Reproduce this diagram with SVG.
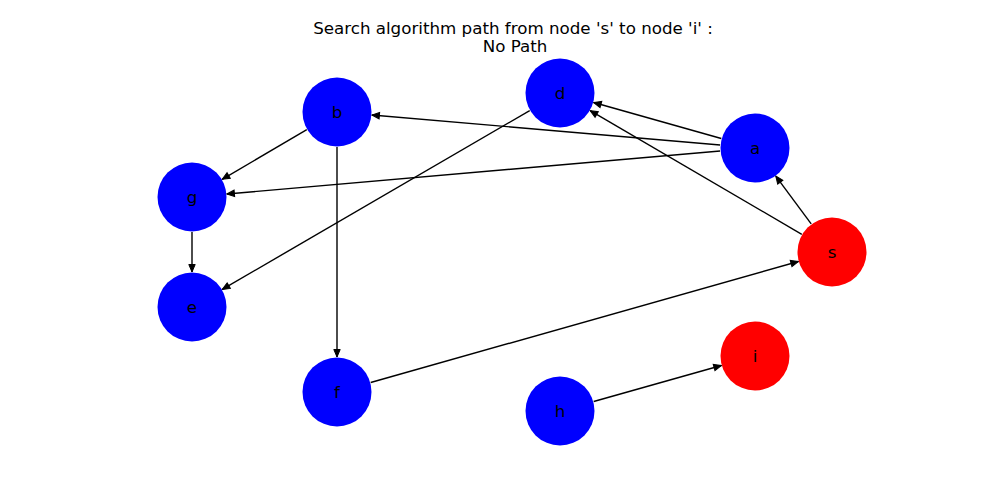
<svg xmlns="http://www.w3.org/2000/svg" width="1000" height="500" viewBox="0 0 1000 500">
<style>
.edge{stroke:#000;stroke-width:1.4;fill:none;marker-end:url(#ah)}
.blue{fill:#0000ff}
.red{fill:#ff0000}
.lbl{font-family:"DejaVu Sans",sans-serif;font-size:16.7px;fill:#000;text-anchor:middle;dominant-baseline:central}
.title{font-family:"DejaVu Sans",sans-serif;font-size:16.7px;fill:#000;text-anchor:middle}
</style>
<defs>
<marker id="ah" markerUnits="userSpaceOnUse" markerWidth="12" markerHeight="10" viewBox="-9 -5 10 10" refX="0" refY="0" orient="auto">
<path d="M0,0 L-7.5,-3.2 L-7.5,3.2 Z" fill="#000" stroke="#000" stroke-width="1" stroke-linejoin="miter"/>
</marker>
</defs>
<rect width="1000" height="500" fill="#fff"/>
<text class="title" x="513" y="34">Search algorithm path from node 's' to node 'i' :</text>
<text class="title" x="515" y="52">No Path</text>
<g id="edges">
<line class="edge" x1="720.1" y1="145.0" x2="371.9" y2="115.0"/>
<line class="edge" x1="721.3" y1="138.5" x2="593.7" y2="102.5"/>
<line class="edge" x1="720.1" y1="151.0" x2="226.9" y2="194.0"/>
<line class="edge" x1="811.2" y1="223.9" x2="775.8" y2="176.1"/>
<line class="edge" x1="801.8" y1="234.3" x2="590.2" y2="110.7"/>
<line class="edge" x1="306.8" y1="129.7" x2="222.2" y2="179.3"/>
<line class="edge" x1="337" y1="147" x2="337" y2="357"/>
<line class="edge" x1="529.7" y1="110.6" x2="222.3" y2="289.4"/>
<line class="edge" x1="192" y1="232" x2="192" y2="272"/>
<line class="edge" x1="370.7" y1="382.5" x2="798.3" y2="261.5"/>
<line class="edge" x1="593.7" y1="401.5" x2="721.3" y2="365.5"/>
</g>
<g id="node-b"><circle class="blue" cx="337" cy="112" r="34.5"/><text class="lbl" x="337" y="112">b</text></g>
<g id="node-d"><circle class="blue" cx="560" cy="93" r="34.5"/><text class="lbl" x="560" y="93">d</text></g>
<g id="node-a"><circle class="blue" cx="755" cy="148" r="34.5"/><text class="lbl" x="755" y="148">a</text></g>
<g id="node-g"><circle class="blue" cx="192" cy="197" r="34.5"/><text class="lbl" x="192" y="197">g</text></g>
<g id="node-s"><circle class="red" cx="832" cy="252" r="34.5"/><text class="lbl" x="832" y="252">s</text></g>
<g id="node-e"><circle class="blue" cx="192" cy="307" r="34.5"/><text class="lbl" x="192" y="307">e</text></g>
<g id="node-i"><circle class="red" cx="755" cy="356" r="34.5"/><text class="lbl" x="755" y="356">i</text></g>
<g id="node-f"><circle class="blue" cx="337" cy="392" r="34.5"/><text class="lbl" x="337" y="392">f</text></g>
<g id="node-h"><circle class="blue" cx="560" cy="411" r="34.5"/><text class="lbl" x="560" y="411">h</text></g>
</svg>
